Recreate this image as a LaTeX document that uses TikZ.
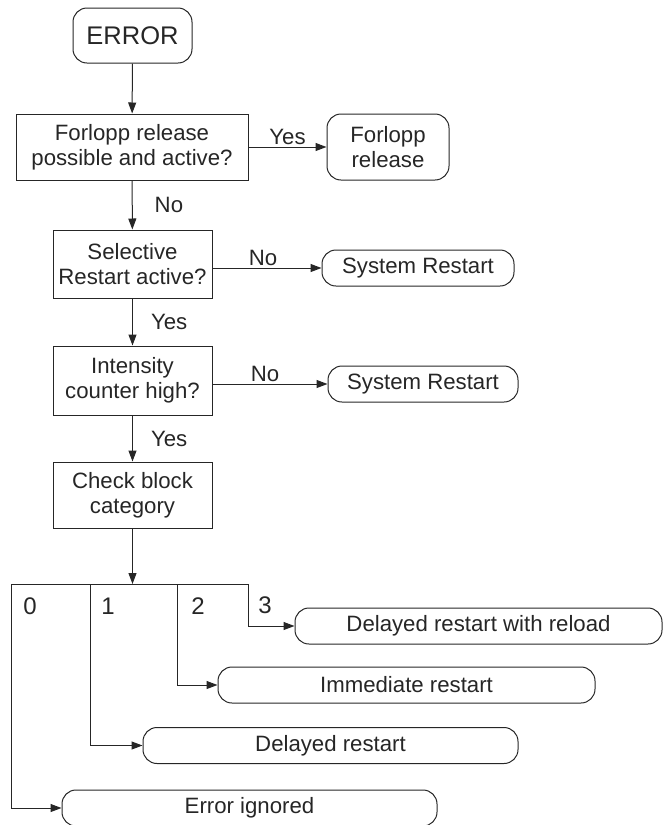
\documentclass[tikz,border=0pt]{standalone}
\usepackage{fontspec}
\setmainfont{Liberation Sans}
\usetikzlibrary{arrows.meta}
\definecolor{ink}{HTML}{262626}
\begin{document}
\begin{tikzpicture}[x=1pt,y=-1pt,
  every node/.style={font=\fontsize{22.2}{25}\selectfont, text=ink},
  box/.style={draw=ink, line width=1pt, align=center, inner sep=0pt},
  term/.style={box, rounded corners=14pt},
  flow/.style={draw=ink, line width=1pt, -{Triangle[length=11pt,width=8pt]}},
  wire/.style={draw=ink, line width=1pt},
  lab/.style={inner sep=2pt},
  digit/.style={font=\fontsize{24}{26}\selectfont}]
\useasboundingbox (0,0) rectangle (663,825);

% main column
\node[term, minimum width=119pt, minimum height=55pt, font=\fontsize{25.5}{28}\selectfont] (err) at (132.5,35.5) {ERROR};
\node[box, minimum width=232pt, minimum height=66pt] (q1) at (132,147) {Forlopp release\\possible and active?};
\node[term, minimum width=122pt, minimum height=66pt] (rel) at (388,147) {Forlopp\\release};
\node[box, minimum width=159pt, minimum height=68pt] (q2) at (132.5,264) {Selective\\Restart active?};
\node[term, minimum width=192pt, minimum height=36pt] (sys1) at (418,268) {System Restart};
\node[box, minimum width=159pt, minimum height=69pt] (q3) at (132.5,380.5) {Intensity\\counter high?};
\node[term, minimum width=190pt, minimum height=36pt] (sys2) at (423,384) {System Restart};
\node[box, minimum width=159pt, minimum height=66pt] (chk) at (132.5,495) {Check block\\category};

% outcomes of the block category
\node[term, minimum width=367pt, minimum height=36pt] (c3) at (478.5,626) {Delayed restart with reload};
\node[term, minimum width=377pt, minimum height=36pt] (c2) at (406.5,685) {Immediate restart};
\node[term, minimum width=375pt, minimum height=36pt] (c1) at (330.5,745.5) {Delayed restart};
\node[term, minimum width=375pt, minimum height=36pt] (c0) at (249.5,808) {Error ignored};

% decisions
\draw[flow] (err) -- (q1);
\draw[flow] (q1) -- node[lab, anchor=south] (yes1) {Yes} (rel);
\draw[flow] (q1) -- node[lab, anchor=west, xshift=20pt] (no1) {No} (q2);
\draw[flow] (q2.east |- sys1.west) -- node[lab, anchor=south, xshift=-4pt] (no2) {No} (sys1.west);
\draw[flow] (q2) -- node[lab, anchor=west, xshift=16pt] (yes2) {Yes} (q3);
\draw[flow] (q3.east |- sys2.west) -- node[lab, anchor=south, xshift=-5pt] (no3) {No} (sys2.west);
\draw[flow] (q3) -- node[lab, anchor=west, xshift=16pt] (yes3) {Yes} (chk);

% category switch
\coordinate (jn) at (132.5,584);
\coordinate (b0) at (11,584);
\coordinate (b1) at (90,584);
\coordinate (b2) at (177,584);
\coordinate (b3) at (248,584);
\draw[flow] (chk) -- (jn);
\draw[wire] (b0) -- (b3);
\draw[flow] (b0) |- (c0.west);
\draw[flow] (b1) |- (c1.west);
\draw[flow] (b2) |- (c2.west);
\draw[flow] (b3) |- (c3.west);
\node[digit] (n0) at (30,606) {0};
\node[digit] (n1) at (108,606) {1};
\node[digit] (n2) at (198,606) {2};
\node[digit] (n3) at (265,605) {3};
\end{tikzpicture}
\end{document}
